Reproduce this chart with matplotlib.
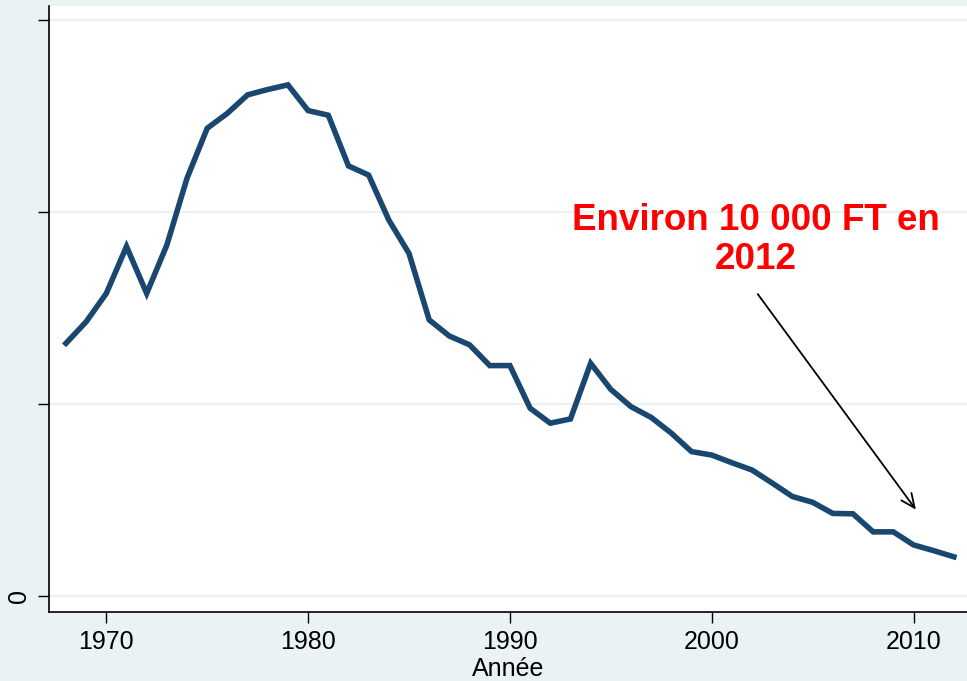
import numpy as np
import matplotlib
matplotlib.use('Agg')
import matplotlib.pyplot as plt

# nombre de ... par annee
years = list(range(1968, 2013))
values = [65800, 71400, 78800, 91000, 78800, 91400, 108800, 121800, 125700,
          130500, 131900, 133100, 126400, 125200, 112000, 109600, 97900,
          89200, 71900, 67700, 65400, 60000, 60000, 48900, 45000, 46100,
          60600, 53800, 49300, 46500, 42400, 37600, 36700, 34700, 32800,
          29400, 25900, 24400, 21500, 21400, 16700, 16700, 13300, 11800, 10200]

ytick_vals = [0, 50000, 100000, 150000]
ytick_labels = ['0', '', '', '']
xtick_vals = [1970, 1980, 1990, 2000, 2010]

note = 'Environ 10 000 FT en\n2012'

bg = '#EAF2F3'
navy = '#1A476F'

plt.rcParams['font.family'] = ['Liberation Sans', 'DejaVu Sans']

fig = plt.figure(figsize=(9.67, 6.81), dpi=100, facecolor=bg)
ax = fig.add_axes([49/967, 69/681, 1 - 49/967, (612-6)/681])
ax.set_facecolor('white')

ax.plot(years, values, color=navy, lw=4, solid_joinstyle='miter', zorder=3)

ax.set_xlim(1967.16, 2012.65)
ax.set_ylim(-4170, 153640)
ax.set_xticks(xtick_vals)
ax.set_yticks(ytick_vals)
ax.set_yticklabels(ytick_labels, rotation=90, va='center')
ax.grid(axis='y', color=bg, lw=1.6, zorder=0)
ax.grid(axis='x', visible=False)
ax.tick_params(axis='both', direction='out', length=8, width=1, labelsize=18,
               color='black', pad=5)
for s in ['top', 'right']:
    ax.spines[s].set_visible(False)
for s in ['left', 'bottom']:
    ax.spines[s].set_linewidth(1.2)
    ax.spines[s].set_color('black')

ax.set_xlabel('Année', fontsize=18, labelpad=2)

ax.annotate('', xy=(2010.2, 21900), xytext=(2002.2, 79200),
            arrowprops=dict(arrowstyle='->,head_length=1.0,head_width=0.45',
                            color='black', lw=1.3))
ax.text(2002.2, 92800, note, color='red', fontsize=26.5, fontweight='bold',
        ha='center', va='center', linespacing=1.15)

fig.savefig('out.png', dpi=100, facecolor=bg)
